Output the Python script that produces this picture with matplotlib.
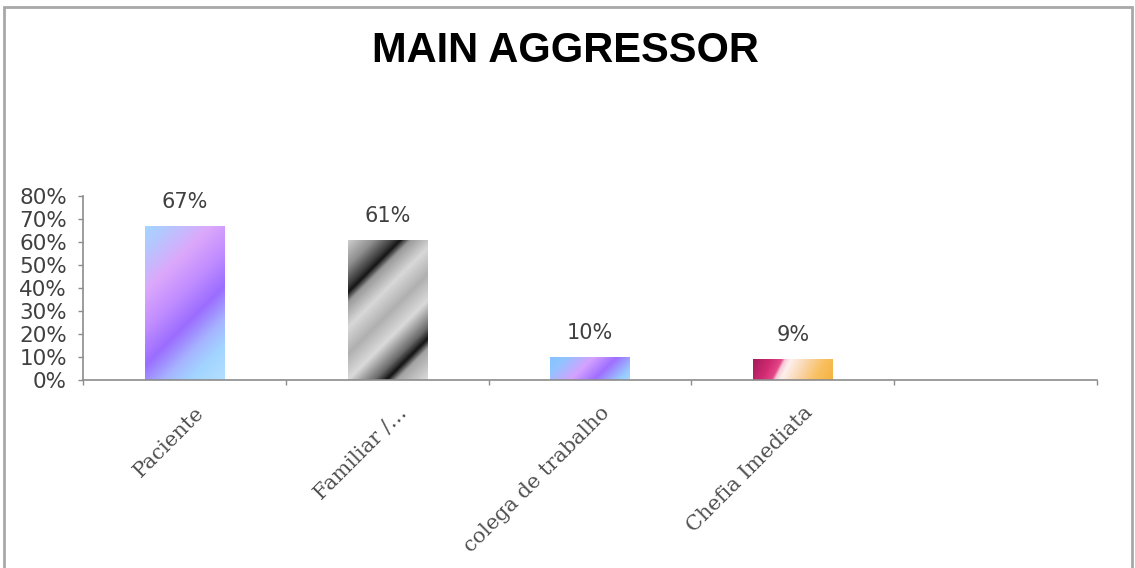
import numpy as np
import matplotlib
matplotlib.use("Agg")
import matplotlib.pyplot as plt
from matplotlib.colors import LinearSegmentedColormap
from matplotlib.patches import Rectangle
import matplotlib.transforms as mtransforms

# --- data -------------------------------------------------------------
title = "MAIN AGGRESSOR"
categories = ["Paciente", "Familiar /…", "colega de trabalho", "Chefia Imediata"]
values = [0.67, 0.61, 0.10, 0.09]
value_labels = ["67%", "61%", "10%", "9%"]
n_slots = 5
y_ticks = [0.0, 0.1, 0.2, 0.3, 0.4, 0.5, 0.6, 0.7, 0.8]
y_tick_labels = ["0%", "10%", "20%", "30%", "40%", "50%", "60%", "70%", "80%"]

# --- gradient fills for each bar (stop position, colour) ---------------
fills = [
    [(0.0, "#a4d6ff"), (0.10, "#b4c8ff"), (0.28, "#dca8fb"), (0.44, "#c28eff"),
     (0.60, "#9b6dff"), (0.74, "#a6b4ff"), (0.85, "#a2d4ff"), (1.0, "#b4e0ff")],
    [(0.0, "#cfcfcf"), (0.12, "#8e8e8e"), (0.21, "#3a3a3a"), (0.24, "#141414"),
     (0.285, "#9a9a9a"), (0.40, "#d8d8d8"), (0.52, "#b0b0b0"), (0.64, "#dadada"),
     (0.76, "#6a6a6a"), (0.815, "#121212"), (0.86, "#a4a4a4"), (1.0, "#dcdcdc")],
    [(0.0, "#86c2ff"), (0.15, "#90c4ff"), (0.42, "#d4a2ff"), (0.65, "#9f6fff"),
     (0.90, "#98ccff"), (1.0, "#a4d4ff")],
    [(0.0, "#a41c5a"), (0.20, "#d02a72"), (0.32, "#e44888"), (0.355, "#f6c8d6"),
     (0.42, "#fdf0ee"), (0.60, "#fad6ae"), (0.80, "#f8c060"), (1.0, "#f5b440")],
]
slopes = [1.0, 1.0, 1.0, 0.5]

W, H, DPI = 1135, 568, 100
fig = plt.figure(figsize=(W / DPI, H / DPI), dpi=DPI)
fig.patch.set_facecolor("white")

ax = fig.add_axes([83 / W, 188 / H, (1097 - 83) / W, 184 / H])
ax.set_xlim(-0.5, n_slots - 0.5)
ax.set_ylim(0, 0.8)

x = np.arange(len(categories))
bar_w = 0.39
bars = ax.bar(x, values, width=bar_w, facecolor="none", edgecolor="none", zorder=2)

# pixel scale of the data axes
px_per_x = ax.bbox.width / (n_slots)
px_per_y = ax.bbox.height / 0.8

for rect, stops, s in zip(bars, fills, slopes):
    x0, w = rect.get_x(), rect.get_width()
    h = rect.get_height()
    wp, hp = w * px_per_x, h * px_per_y
    nx, ny = max(int(wp * 2), 2), max(int(hp * 2), 2)
    cols = np.linspace(0, wp, nx)[None, :]
    rows = np.linspace(0, hp, ny)[:, None]
    t = (cols + s * rows) / (wp + s * hp)
    cmap = LinearSegmentedColormap.from_list("g", stops)
    im = ax.imshow(cmap(t), extent=(x0, x0 + w, 0, h), origin="upper",
                   aspect="auto", interpolation="bilinear", zorder=2)
    im.set_clip_path(rect)

ax.set_xlim(-0.5, n_slots - 0.5)
ax.set_ylim(0, 0.8)

# value labels above bars
for xi, v, lab in zip(x, values, value_labels):
    ax.annotate(lab, (xi, v), xytext=(0, 10), textcoords="offset points",
                ha="center", va="bottom", fontsize=15, color="#404040",
                family="DejaVu Sans")

# axes styling
axis_col = "#8c8c8c"
for side in ("top", "right"):
    ax.spines[side].set_visible(False)
for side in ("left", "bottom"):
    ax.spines[side].set_color(axis_col)
    ax.spines[side].set_linewidth(1.2)

ax.set_yticks(y_ticks)
ax.set_yticklabels(y_tick_labels, fontsize=15.5, color="#404040", family="DejaVu Sans")
ax.tick_params(axis="y", direction="out", length=3.6, width=1, color=axis_col, pad=8)

ax.set_xticks(np.arange(-0.5, n_slots, 1.0))
ax.set_xticklabels([])
ax.tick_params(axis="x", direction="out", length=3.6, width=1, color=axis_col)

# rotated category labels
offset = mtransforms.ScaledTranslation(17 / DPI, -30 / DPI, fig.dpi_scale_trans)
trans = mtransforms.blended_transform_factory(ax.transData, ax.transAxes) + offset
for xi, cat in zip(x, categories):
    ax.text(xi, 0, cat, transform=trans, rotation=45, rotation_mode="anchor",
            ha="right", va="center", fontsize=15, color="#505050",
            family="DejaVu Serif")

# title
fig.text(565 / W, (H - 62) / H, title, ha="center", va="baseline",
         fontsize=30, fontweight="bold", family="Liberation Sans", color="black")

# outer frame
fig.patches.append(Rectangle((4 / W, -0.02), (1132 - 4) / W, (H - 7) / H + 0.02,
                             transform=fig.transFigure, fill=False,
                             edgecolor="#a8a8a8", linewidth=2))

fig.savefig("out.png", dpi=DPI, facecolor="white")
